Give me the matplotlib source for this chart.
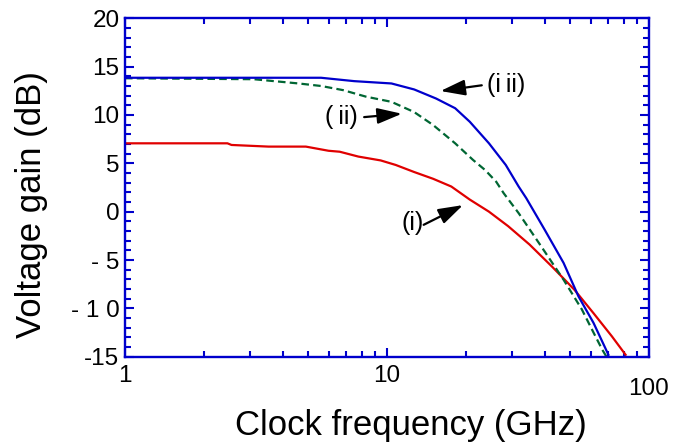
import matplotlib
matplotlib.use("Agg")
import matplotlib.pyplot as plt
from matplotlib.ticker import FixedLocator, NullFormatter
import numpy as np

plt.rcParams['font.family'] = ['Liberation Sans', 'DejaVu Sans']

# Curve (iii) - blue solid
f_iii = [1, 5.6, 7.5, 10.4, 12.7, 15.4, 18.2, 20.7, 24.5, 28.4, 31.8, 34, 40, 47.2, 53.8, 61.4, 70]
g_iii = [13.85, 13.85, 13.5, 13.26, 12.64, 11.7, 10.7, 9.3, 7.07, 4.83, 2.6, 1.4, -1.88, -5.3, -8.76, -11.5, -14.8]

# Curve (ii) - green dashed
f_ii = [1, 3.1, 4.6, 5.6, 6.8, 8.3, 10.4, 12.7, 15.0, 18.2, 21.3, 23.7, 26.1, 27.9, 31.8, 38.8, 47.2, 55.4, 61.4, 66.4, 68.8]
g_ii = [13.8, 13.7, 13.26, 13.0, 12.57, 11.9, 11.36, 10.3, 8.96, 7.07, 5.35, 4.3, 3.1, 1.9, -0.15, -3.6, -7.04, -10.1, -12.5, -14.3, -15.0]

# Curve (i) - red solid
f_i = [1, 2.46, 2.55, 3.53, 4.9, 5.98, 6.6, 7.77, 9.46, 10.8, 12.7, 15, 17.6, 20.7, 24.5, 29, 35, 42.7, 51.9, 61.4, 72.2, 81.4]
g_i = [7.07, 7.07, 6.9, 6.73, 6.73, 6.3, 6.2, 5.7, 5.3, 4.83, 4.1, 3.4, 2.6, 1.25, 0.0, -1.5, -3.4, -5.7, -8.07, -10.5, -12.9, -14.8]

x_ticks = [1, 10, 100]
x_ticklabels = ['1', '10', '100']
y_ticks = [-15, -10, -5, 0, 5, 10, 15, 20]
y_ticklabels = ['-15', '- 1 0', '- 5', '0', '5', '10', '15', '20']

# annotations: label, text centre, arrow tail, arrow tip (data coords)
ann_labels = ['(i\u2009ii)', '(\u2009ii)', '(i)']
ann_text = [(28.5, 13.07), (6.72, 9.78), (12.5, -1.19)]
ann_tail = [(23.0, 13.07), (8.18, 9.78), (13.8, -1.36)]
ann_tip = [(16.0, 12.48), (11.4, 10.13), (19.5, 0.68)]

BLUE = '#0000CC'
fig = plt.figure(figsize=(6.81, 4.44), dpi=100)
L, R, T, B = 125, 649, 18.3, 356.7
ax = fig.add_axes([L/681, 1-B/444, (R-L)/681, (B-T)/444])

ax.plot(f_i, g_i, color='#E00000', lw=1.6)
ax.plot(f_ii, g_ii, color='#006633', lw=1.6, dashes=(3.4, 1.9))
ax.plot(f_iii, g_iii, color='#0000CC', lw=1.6)

ax.set_xscale('log')
ax.set_xlim(1, 100)
ax.set_ylim(-15, 20)

ax.set_xticks(x_ticks)
ax.set_xticklabels([x_ticklabels[0], x_ticklabels[1], ''])
ax.xaxis.set_minor_locator(FixedLocator([m * d for d in (1, 10) for m in range(2, 10)]))
ax.xaxis.set_minor_formatter(NullFormatter())
ax.set_yticks(y_ticks)
ax.set_yticklabels(y_ticklabels)
ax.yaxis.set_minor_locator(FixedLocator(np.arange(-15, 21, 1)))

for s in ax.spines.values():
    s.set_color(BLUE)
    s.set_linewidth(1.7)
ax.tick_params(which='both', direction='in', top=True, right=True, color=BLUE, width=1.5)
ax.tick_params(which='major', length=6.5, labelsize=17.5)
ax.tick_params(which='minor', length=4.2)
ax.tick_params(axis='y', which='major', pad=4)
ax.tick_params(axis='x', which='major', pad=6)

# last x tick label sits lower in the reference
ax.text(x_ticks[2], -0.0955, x_ticklabels[2], transform=ax.get_xaxis_transform(),
        ha='center', va='center', fontsize=17.5)

for lab, xt, tail, tip in zip(ann_labels, ann_text, ann_tail, ann_tip):
    ax.text(xt[0], xt[1], lab, fontsize=18, ha='center', va='center')
    ax.annotate('', xy=tip, xytext=tail,
                arrowprops=dict(arrowstyle='-|>,head_length=1.5,head_width=0.48', color='black',
                                lw=1.6, shrinkA=0, shrinkB=0, mutation_scale=10))

fig.text(32/681, 1-205/444, 'Voltage gain (dB)', rotation=90, ha='center', va='center', fontsize=25)
fig.text(411/681, 1-425/444, 'Clock frequency (GHz)', ha='center', va='center', fontsize=25)

fig.savefig('out.png', dpi=100)
